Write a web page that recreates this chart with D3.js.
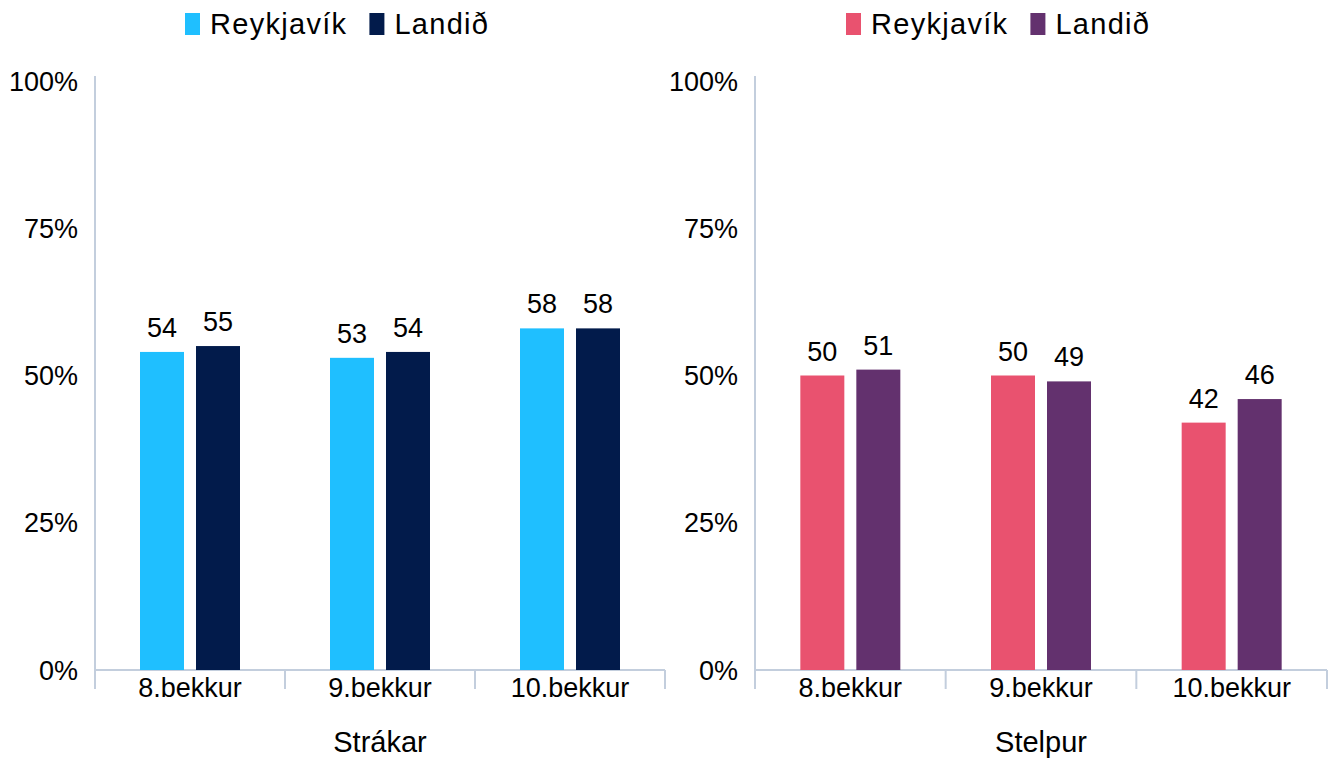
<!DOCTYPE html>
<html><head><meta charset="utf-8">
<script src="https://cdn.jsdelivr.net/npm/d3@7"></script>
<style>body{margin:0;background:#fff;} text{font-family:"Liberation Sans",Arial,sans-serif;fill:#000;}</style>
</head><body><svg id="c" width="1337" height="762"></svg>
<script>
const categories = ["8.bekkur","9.bekkur","10.bekkur"];
const seriesNames = ["Reykjavík","Landið"];
const boysReykjavik = [54,53,58];
const boysLandid = [55,54,58];
const girlsReykjavik = [50,50,42];
const girlsLandid = [51,49,46];
const yTicks = [0,25,50,75,100];
const panelTitles = ["Strákar","Stelpur"];

const panels = [
  {title: panelTitles[0], series:[boysReykjavik, boysLandid], colors:["#1fbfff","#021b4b"], x0:95, x1:665, legendX:185},
  {title: panelTitles[1], series:[girlsReykjavik, girlsLandid], colors:["#e9526f","#63316e"], x0:755, x1:1327, legendX:846}
];
const svg = d3.select("#c");
const y = d3.scaleLinear().domain([0,100]).range([670,81]);
const axisColor = "#c3cedd";

panels.forEach(p => {
  const g = svg.append("g");
  const x = d3.scaleBand().domain(categories).range([p.x0,p.x1]);
  const bw = 44, gap = 12;
  g.append("line").attr("x1",p.x0).attr("x2",p.x0).attr("y1",76).attr("y2",689).attr("stroke",axisColor).attr("stroke-width",2);
  g.append("line").attr("x1",p.x0).attr("x2",p.x1).attr("y1",y(0)).attr("y2",y(0)).attr("stroke",axisColor).attr("stroke-width",2);
  const ticksX = categories.map(c=>x(c)).concat([p.x1]);
  ticksX.forEach(t=> g.append("line").attr("x1",t).attr("x2",t).attr("y1",y(0)).attr("y2",689).attr("stroke",axisColor).attr("stroke-width",2));
  yTicks.forEach(v => g.append("text").attr("x",p.x0-17).attr("y",y(v)+9.5).attr("text-anchor","end").style("font-size","27px").text(v+"%"));
  categories.forEach(c => g.append("text").attr("x",x(c)+x.bandwidth()/2).attr("y",697).attr("text-anchor","middle").style("font-size","27px").text(c));
  p.series.forEach((vals,si) => {
    vals.forEach((v,ci) => {
      const cx = x(categories[ci]) + x.bandwidth()/2;
      const bx = si===0 ? cx - gap/2 - bw : cx + gap/2;
      g.append("rect").attr("x",bx).attr("y",y(v)).attr("width",bw).attr("height",y(0)-y(v)).attr("fill",p.colors[si]);
      g.append("text").attr("x",bx+bw/2).attr("y",y(v)-15).attr("text-anchor","middle").style("font-size","27px").text(v);
    });
  });
  g.append("text").attr("x",(p.x0+p.x1)/2).attr("y",752).attr("text-anchor","middle").style("font-size","29px").text(p.title);
  const lg = g.append("g").attr("transform",`translate(${p.legendX},0)`);
  let lx = 0;
  seriesNames.forEach((s,i)=>{
    lg.append("rect").attr("x",lx).attr("y",13).attr("width",15).attr("height",22).attr("fill",p.colors[i]);
    const t = lg.append("text").attr("x",lx+25).attr("y",34).style("font-size","29px").style("letter-spacing","1.3px").text(s);
    lx += 25 + t.node().getComputedTextLength() + 22;
  });
});
</script></body></html>
